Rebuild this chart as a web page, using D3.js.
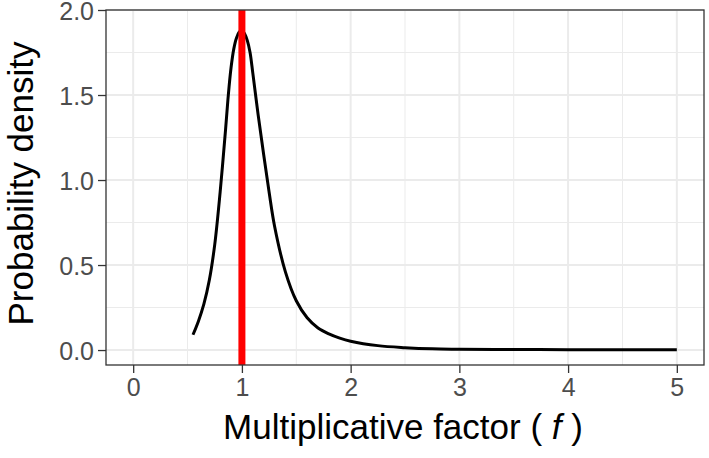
<!DOCTYPE html>
<html>
<head>
<meta charset="utf-8">
<script src="https://cdn.jsdelivr.net/npm/d3@7"></script>
<style>
  body { margin: 0; background: #fff; }
  text { font-family: "Liberation Sans", Arial, Helvetica, sans-serif; }
</style>
</head>
<body>
<svg id="chart" width="709" height="458"></svg>
<script>
// values
const factorValues = [0.55, 0.6, 0.65, 0.7, 0.75, 0.8, 0.85, 0.875, 0.9, 0.925, 0.95, 0.975, 1.0, 1.025, 1.05, 1.075, 1.1, 1.15, 1.2, 1.25, 1.3, 1.4, 1.5, 1.6, 1.7, 1.8, 1.9, 2.0, 2.25, 2.5, 2.75, 3.0, 3.5, 4.0, 4.5, 5.0];
const densityValues = [0.09, 0.17, 0.27, 0.41, 0.62, 0.93, 1.30, 1.50, 1.66, 1.77, 1.835, 1.87, 1.88, 1.86, 1.82, 1.75, 1.63, 1.38, 1.15, 0.93, 0.73, 0.46, 0.29, 0.19, 0.13, 0.095, 0.07, 0.052, 0.026, 0.014, 0.007, 0.005, 0.003, 0.002, 0.0015, 0.001];
const markerValue = 1;

const xTicks = [0, 1, 2, 3, 4, 5];
const xMinor = [0.5, 1.5, 2.5, 3.5, 4.5];
const yTicks = [0, 0.5, 1.0, 1.5, 2.0];
const yMinor = [0.25, 0.75, 1.25, 1.75];

const svg = d3.select('#chart');
const pLeft = 106, pRight = 704, pTop = 10, pBottom = 365;

const x = d3.scaleLinear().domain([-0.25, 5.25]).range([pLeft, pRight]);
const y = d3.scaleLinear().domain([-0.088, 2.0]).range([pBottom, pTop]);

// grid
const grid = svg.append('g');
grid.selectAll('.xminor').data(xMinor).enter().append('line')
  .attr('x1', d => x(d)).attr('x2', d => x(d)).attr('y1', pTop).attr('y2', pBottom)
  .style('stroke', '#EBEBEB').style('stroke-width', 1);
grid.selectAll('.yminor').data(yMinor).enter().append('line')
  .attr('x1', pLeft).attr('x2', pRight).attr('y1', d => y(d)).attr('y2', d => y(d))
  .style('stroke', '#EBEBEB').style('stroke-width', 1);
grid.selectAll('.xmajor').data(xTicks).enter().append('line')
  .attr('x1', d => x(d)).attr('x2', d => x(d)).attr('y1', pTop).attr('y2', pBottom)
  .style('stroke', '#EBEBEB').style('stroke-width', 2);
grid.selectAll('.ymajor').data(yTicks).enter().append('line')
  .attr('x1', pLeft).attr('x2', pRight).attr('y1', d => y(d)).attr('y2', d => y(d))
  .style('stroke', '#EBEBEB').style('stroke-width', 2);

// curve
const pts = factorValues.map((f, i) => [f, densityValues[i]]);
const line = d3.line()
  .x(d => x(d[0]))
  .y(d => y(d[1]))
  .curve(d3.curveCatmullRom.alpha(0.5));

svg.append('path')
  .datum(pts)
  .attr('d', line)
  .style('fill', 'none')
  .style('stroke', '#000')
  .style('stroke-width', 3);

// vertical marker
svg.append('line')
  .attr('x1', x(markerValue)).attr('x2', x(markerValue))
  .attr('y1', pTop).attr('y2', pBottom)
  .style('stroke', '#FF0000')
  .style('stroke-width', 7);

// panel border
svg.append('rect')
  .attr('x', pLeft).attr('y', pTop)
  .attr('width', pRight - pLeft).attr('height', pBottom - pTop)
  .style('fill', 'none')
  .style('stroke', '#333333')
  .style('stroke-width', 1.3);

// axes
const xAxis = svg.append('g')
  .attr('transform', `translate(0,${pBottom})`)
  .call(d3.axisBottom(x).tickValues(xTicks).tickSize(8).tickPadding(5).tickFormat(d3.format('d')));
const yAxis = svg.append('g')
  .attr('transform', `translate(${pLeft},0)`)
  .call(d3.axisLeft(y).tickValues(yTicks).tickSize(8).tickPadding(4).tickFormat(d3.format('.1f')));

[xAxis, yAxis].forEach(a => {
  a.select('.domain').remove();
  a.selectAll('.tick line').style('stroke', '#333333').style('stroke-width', 1.3);
  a.selectAll('.tick text')
    .style('fill', '#4D4D4D')
    .style('font-size', '25px')
    .style('font-family', '"Liberation Sans", Arial, sans-serif');
});
yAxis.selectAll('.tick text').attr('dy', '0.36em');

// axis titles
const xt = svg.append('text')
  .attr('x', (pLeft + pRight) / 2 - 2)
  .attr('y', 439)
  .attr('text-anchor', 'middle')
  .style('font-size', '35px')
  .style('fill', '#000');
xt.append('tspan').text('Multiplicative factor ( ');
xt.append('tspan').style('font-style', 'italic').text('f');
xt.append('tspan').text(' )');

svg.append('text')
  .attr('transform', `translate(33,${(pTop + pBottom) / 2 - 4}) rotate(-90)`)
  .attr('text-anchor', 'middle')
  .style('font-size', '35px')
  .style('fill', '#000')
  .text('Probability density');
</script>
</body>
</html>
